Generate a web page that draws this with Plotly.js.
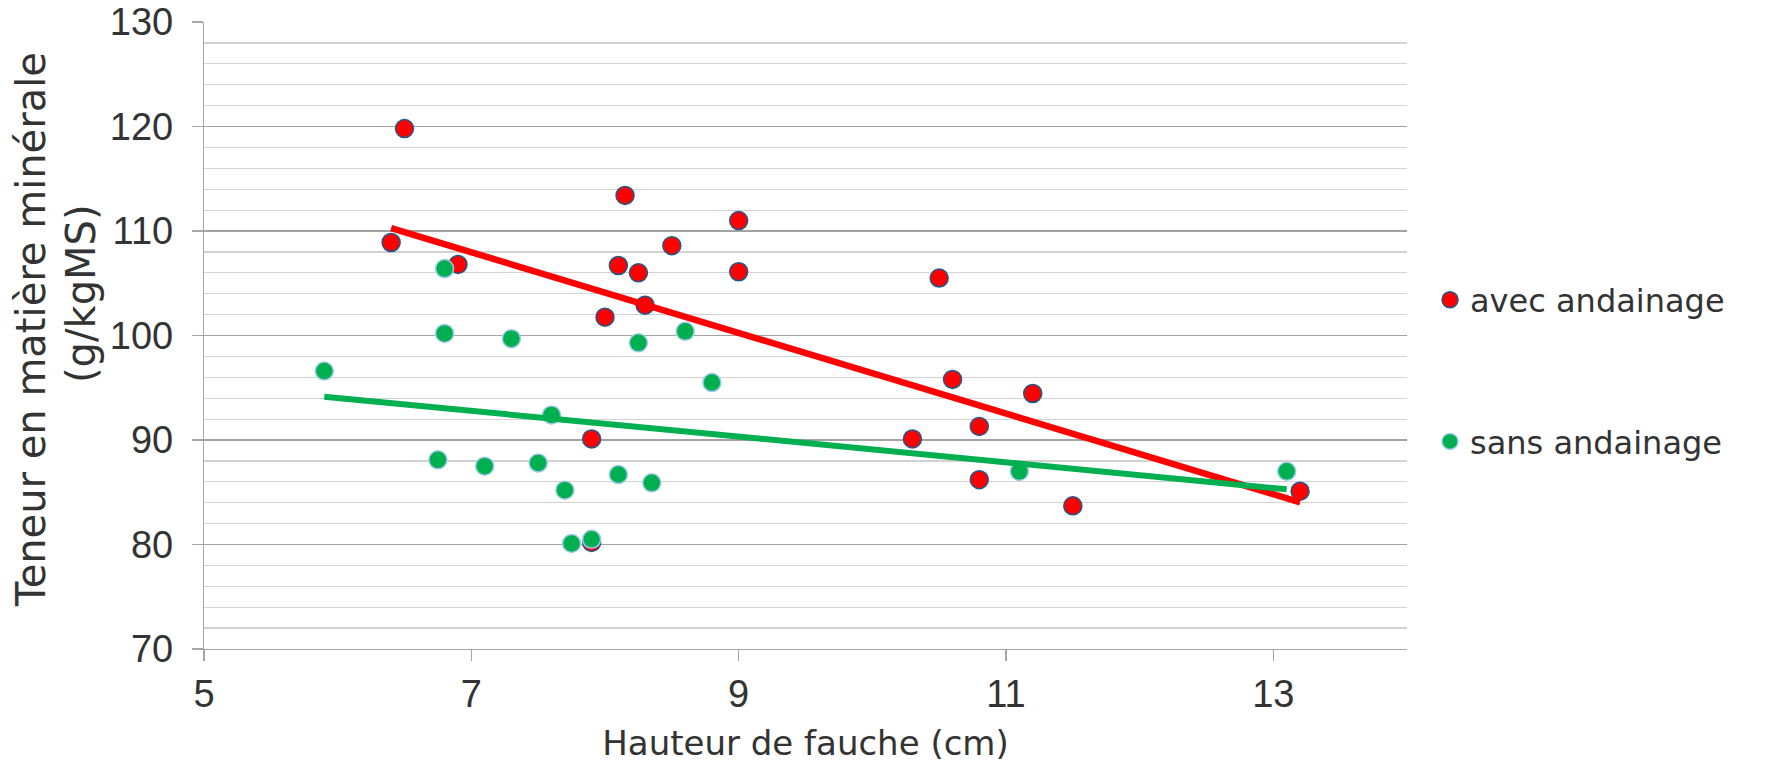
<!DOCTYPE html>
<html>
<head>
<meta charset="utf-8">
<script src="https://cdn.plot.ly/plotly-3.0.1.min.js"></script>
<style>
  html, body { margin: 0; padding: 0; background: #ffffff; }
  #chart { width: 1767px; height: 763px; }
</style>
</head>
<body>
<div id="chart"></div>
<script>
// Hauteur de fauche (cm) et teneur en matière minérale (g/kgMS)
const avecHauteur = [6.5, 6.4, 6.9, 8.15, 9.0, 8.5, 8.1, 8.25, 9.0, 8.3, 8.0,
                     7.9, 7.9, 10.5, 10.6, 11.2, 10.8, 10.3, 10.8, 11.5, 13.2];
const avecTeneur  = [119.8, 108.9, 106.8, 113.4, 111.0, 108.6, 106.7, 106.0, 106.1, 102.9, 101.75,
                     90.1, 80.2, 105.5, 95.8, 94.45, 91.3, 90.1, 86.2, 83.7, 85.1];

const sansHauteur = [5.9, 6.8, 6.8, 7.3, 8.25, 8.6, 8.8, 7.6, 6.75, 7.1, 7.5,
                     7.7, 8.1, 8.35, 7.75, 7.9, 11.1, 13.1];
const sansTeneur  = [96.6, 106.4, 100.2, 99.7, 99.3, 100.4, 95.5, 92.4, 88.1, 87.5, 87.8,
                     85.2, 86.7, 85.9, 80.1, 80.5, 87.0, 87.0];

const seriesNames = ['avec andainage', 'sans andainage'];
const xTicks = [5, 7, 9, 11, 13];
const yTicks = [70, 80, 90, 100, 110, 120, 130];
const xTitle = 'Hauteur de fauche (cm)';
const yTitleLines = ['Teneur en matière minérale', '(g/kgMS)'];

const RED = '#ff0000';
const GREEN = '#00b050';
const TEXT = '#333333';

// Least-squares linear trend, drawn between the smallest and largest x
function trend(xs, ys) {
  const n = xs.length;
  const mx = xs.reduce((a, b) => a + b, 0) / n;
  const my = ys.reduce((a, b) => a + b, 0) / n;
  let sxy = 0, sxx = 0;
  for (let i = 0; i < n; i++) {
    sxy += (xs[i] - mx) * (ys[i] - my);
    sxx += (xs[i] - mx) * (xs[i] - mx);
  }
  const slope = sxy / sxx;
  const x0 = Math.min(...xs), x1 = Math.max(...xs);
  return { x: [x0, x1], y: [my + slope * (x0 - mx), my + slope * (x1 - mx)] };
}

const avecFit = trend(avecHauteur, avecTeneur);
const sansFit = trend(sansHauteur, sansTeneur);

const traces = [
  {
    type: 'scatter', mode: 'markers', name: seriesNames[0], legendgroup: 'avec',
    x: avecHauteur, y: avecTeneur,
    marker: { color: RED, size: 18, line: { color: '#1f5a8c', width: 1.5 } },
    hoverinfo: 'x+y'
  },
  {
    type: 'scatter', mode: 'markers', name: seriesNames[1], legendgroup: 'sans',
    x: sansHauteur, y: sansTeneur,
    marker: { color: GREEN, size: 18, line: { color: '#9cc8ea', width: 1.5 } },
    hoverinfo: 'x+y'
  },
  {
    type: 'scatter', mode: 'lines', showlegend: false, legendgroup: 'avec',
    x: avecFit.x, y: avecFit.y,
    line: { color: RED, width: 6.5 }, hoverinfo: 'skip'
  },
  {
    type: 'scatter', mode: 'lines', showlegend: false, legendgroup: 'sans',
    x: sansFit.x, y: sansFit.y,
    line: { color: GREEN, width: 6 }, hoverinfo: 'skip'
  }
];

const plotTop = 22, plotBottom = 649;
const plotLeft = 204, plotRight = 1407;
const W = 1767, H = 763;
const px2x = px => (px - plotLeft) / (plotRight - plotLeft);
const px2y = py => (plotBottom - py) / (plotBottom - plotTop);

const layout = {
  width: W, height: H,
  margin: { l: plotLeft, r: W - plotRight, t: plotTop, b: H - plotBottom, pad: 0 },
  paper_bgcolor: '#ffffff', plot_bgcolor: '#ffffff',
  showlegend: true,
  xaxis: {
    range: [5, 14],
    tickvals: xTicks, ticktext: xTicks.map(String),
    showgrid: false, zeroline: false,
    showline: true, linecolor: '#a6a6a6', linewidth: 1.2,
    ticks: 'outside', ticklen: 11, tickcolor: '#a6a6a6', tickwidth: 1.2,
    ticklabelstandoff: 0,
    tickfont: { family: 'Liberation Sans, Arial, sans-serif', size: 38, color: TEXT },
    title: { text: xTitle, font: { family: 'DejaVu Sans, sans-serif', size: 34, color: TEXT }, standoff: 25 }
  },
  yaxis: {
    range: [70, 130],
    tickvals: yTicks, ticktext: yTicks.map(String),
    showgrid: true, gridcolor: '#a3a3a3', gridwidth: 1.2,
    minor: { dtick: 2, showgrid: true, gridcolor: '#d2d2d2', gridwidth: 1.2, ticks: '' },
    zeroline: false,
    showline: true, linecolor: '#a6a6a6', linewidth: 1.2,
    ticks: 'outside', ticklen: 11, tickcolor: '#a6a6a6', tickwidth: 1.2,
    ticklabelstandoff: 11,
    tickfont: { family: 'Liberation Sans, Arial, sans-serif', size: 38, color: TEXT }
  },
  legend: {
    x: px2x(1430), xanchor: 'left',
    y: px2y(371), yanchor: 'middle',
    traceorder: 'grouped', tracegroupgap: 97,
    bgcolor: 'rgba(0,0,0,0)', borderwidth: 0,
    font: { family: 'DejaVu Sans, sans-serif', size: 32, color: TEXT }
  },
  annotations: [
    {
      text: yTitleLines[0], textangle: -90, showarrow: false,
      xref: 'paper', yref: 'paper', x: px2x(31), y: px2y(330),
      xanchor: 'center', yanchor: 'middle',
      font: { family: 'DejaVu Sans, sans-serif', size: 40, color: TEXT }
    },
    {
      text: yTitleLines[1], textangle: -90, showarrow: false,
      xref: 'paper', yref: 'paper', x: px2x(81), y: px2y(294),
      xanchor: 'center', yanchor: 'middle',
      font: { family: 'DejaVu Sans, sans-serif', size: 40, color: TEXT }
    }
  ]
};

Plotly.newPlot('chart', traces, layout, { displayModeBar: false, staticPlot: true });
</script>
</body>
</html>
